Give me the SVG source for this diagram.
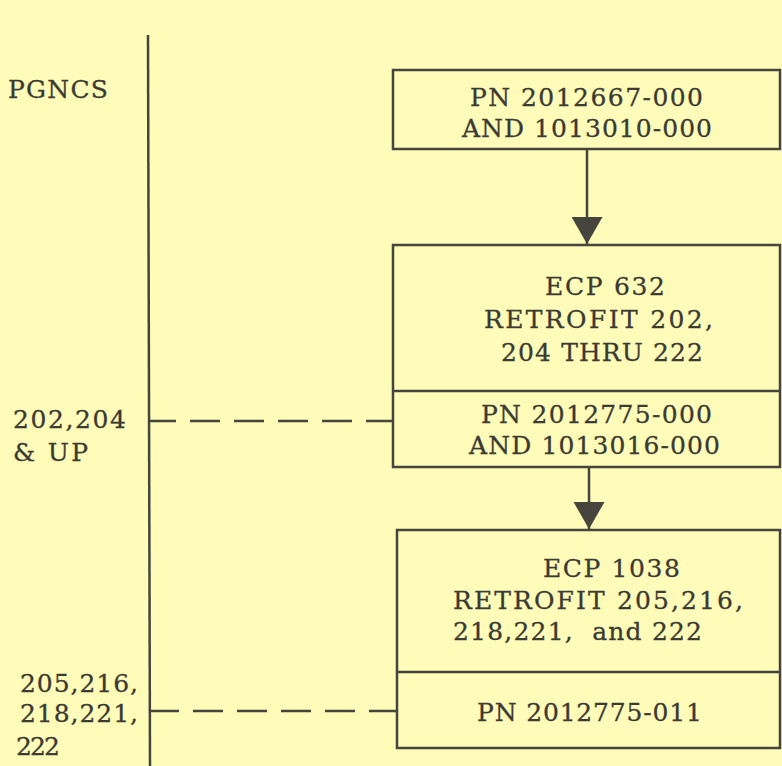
<svg xmlns="http://www.w3.org/2000/svg" width="782" height="766" viewBox="0 0 782 766">
<style>
.ln{stroke:#45443d;stroke-width:2.5;fill:none}
.box{stroke:#45443d;stroke-width:2.5;fill:none}
.dash{stroke:#45443d;stroke-width:2.5;fill:none;stroke-dasharray:30 14}
text{font-family:"DejaVu Serif","Liberation Serif",serif;font-size:25px;fill:#3b3a33;stroke:#3b3a33;stroke-width:0.3}
</style>
<defs>
<marker id="ah" markerUnits="userSpaceOnUse" viewBox="0 0 27 31" refX="27" refY="15.5" markerWidth="27" markerHeight="31" orient="auto">
<path d="M0,0 L27,15.5 L0,31 z" fill="#45443d"/>
</marker>
</defs>
<rect width="782" height="766" fill="#fefcb8"/>
<g id="axis">
<line class="ln" x1="148" y1="35" x2="150" y2="766"/>
<text x="8" y="98" textLength="100" lengthAdjust="spacing">PGNCS</text>
</g>
<g id="label-202">
<text x="13" y="428" textLength="113" lengthAdjust="spacing">202,204</text>
<text x="13" y="461" textLength="75" lengthAdjust="spacing">&amp; UP</text>
</g>
<g id="label-205">
<text x="20" y="692" textLength="118" lengthAdjust="spacing">205,216,</text>
<text x="20" y="722" textLength="118" lengthAdjust="spacing">218,221,</text>
<text x="16" y="755" textLength="44" lengthAdjust="spacing">222</text>
</g>
<g id="node1">
<rect class="box" x="393" y="70" width="387" height="79"/>
<text x="470" y="106" textLength="233" lengthAdjust="spacing">PN 2012667-000</text>
<text x="462" y="137" textLength="250" lengthAdjust="spacing">AND 1013010-000</text>
</g>
<g id="node2">
<rect class="box" x="393" y="245" width="387" height="222"/>
<line class="ln" x1="393" y1="391" x2="780" y2="391"/>
<text x="545" y="295" textLength="120" lengthAdjust="spacing">ECP 632</text>
<text x="484" y="328" textLength="229" lengthAdjust="spacing">RETROFIT 202,</text>
<text x="501" y="361" textLength="202" lengthAdjust="spacing">204 THRU 222</text>
<text x="481" y="423" textLength="231" lengthAdjust="spacing">PN 2012775-000</text>
<text x="469" y="454" textLength="251" lengthAdjust="spacing">AND 1013016-000</text>
</g>
<g id="node3">
<rect class="box" x="397" y="530" width="383" height="218"/>
<line class="ln" x1="397" y1="672" x2="780" y2="672"/>
<text x="543" y="577" textLength="137" lengthAdjust="spacing">ECP 1038</text>
<text x="453" y="609" textLength="290" lengthAdjust="spacing">RETROFIT 205,216,</text>
<text x="453" y="640" textLength="249" lengthAdjust="spacing" xml:space="preserve">218,221,  and 222</text>
<text x="477" y="721" textLength="225" lengthAdjust="spacing">PN 2012775-011</text>
</g>
<g id="connectors">
<line class="ln" x1="587" y1="150" x2="587" y2="244" marker-end="url(#ah)"/>
<line class="ln" x1="589" y1="467" x2="589" y2="529" marker-end="url(#ah)"/>
<line class="dash" x1="148" y1="421" x2="393" y2="421" stroke-dashoffset="2"/>
<line class="dash" x1="151" y1="711" x2="397" y2="711" stroke-dasharray="29 16" stroke-dashoffset="2"/>
</g>
</svg>
